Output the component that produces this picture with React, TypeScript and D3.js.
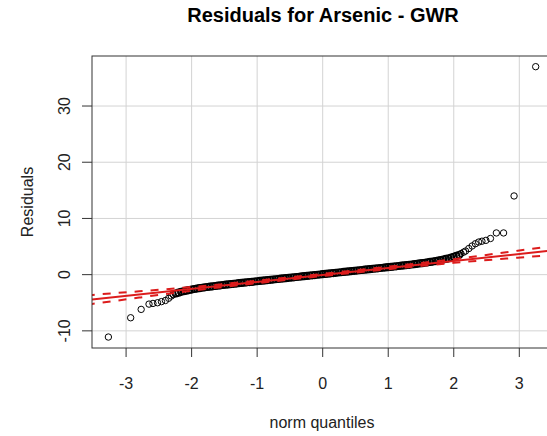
import React from "react";
import * as d3 from "d3";

// Q-Q plot of GWR residuals
const title = "Residuals for Arsenic - GWR";
const xTicks = [-3, -2, -1, 0, 1, 2, 3];
const yTicks = [-10, 0, 10, 20, 30];

// dense central band: theoretical quantile / residual
const bandQ = [
  -2.24, -2.2, -2.16, -2.12, -2.08, -2.04, -2.0, -1.96, -1.92, -1.88, -1.84, -1.8, -1.76, -1.72,
  -1.68, -1.64, -1.6, -1.56, -1.52, -1.48, -1.44, -1.4, -1.36, -1.32, -1.28, -1.24, -1.2, -1.16,
  -1.12, -1.08, -1.04, -1.0, -0.96, -0.92, -0.88, -0.84, -0.8, -0.76, -0.72, -0.68, -0.64, -0.6,
  -0.56, -0.52, -0.48, -0.44, -0.4, -0.36, -0.32, -0.28, -0.24, -0.2, -0.16, -0.12, -0.08, -0.04,
  0.0, 0.04, 0.08, 0.12, 0.16, 0.2, 0.24, 0.28, 0.32, 0.36, 0.4, 0.44, 0.48, 0.52, 0.56, 0.6,
  0.64, 0.68, 0.72, 0.76, 0.8, 0.84, 0.88, 0.92, 0.96, 1.0, 1.04, 1.08, 1.12, 1.16, 1.2, 1.24,
  1.28, 1.32, 1.36, 1.4, 1.44, 1.48, 1.52, 1.56, 1.6, 1.64, 1.68, 1.72, 1.76, 1.8, 1.84, 1.88,
  1.92, 1.96, 2.0, 2.04, 2.08,
];
const bandR = [
  -3.35, -3.2, -3.05, -2.95, -2.85, -2.75, -2.65, -2.55, -2.47, -2.4, -2.33, -2.26, -2.2, -2.14,
  -2.08, -2.02, -1.96, -1.9, -1.84, -1.79, -1.74, -1.68, -1.63, -1.58, -1.52, -1.47, -1.42, -1.37,
  -1.32, -1.27, -1.22, -1.17, -1.12, -1.07, -1.02, -0.97, -0.92, -0.87, -0.82, -0.77, -0.72, -0.67,
  -0.62, -0.57, -0.52, -0.47, -0.42, -0.37, -0.32, -0.27, -0.22, -0.17, -0.12, -0.07, -0.02, 0.03,
  0.08, 0.13, 0.18, 0.23, 0.28, 0.33, 0.38, 0.43, 0.48, 0.53, 0.58, 0.63, 0.68, 0.73, 0.78, 0.83,
  0.88, 0.93, 0.98, 1.03, 1.08, 1.13, 1.18, 1.23, 1.28, 1.33, 1.38, 1.43, 1.48, 1.54, 1.59, 1.64,
  1.7, 1.75, 1.81, 1.87, 1.93, 1.99, 2.05, 2.12, 2.19, 2.26, 2.33, 2.41, 2.49, 2.58, 2.68, 2.79,
  2.91, 3.04, 3.18, 3.33, 3.5,
];

// tails
const leftTail = [
  [-3.27, -11.1], [-2.93, -7.67], [-2.77, -6.18], [-2.65, -5.24], [-2.59, -5.12], [-2.52, -5.0],
  [-2.46, -4.8], [-2.4, -4.6], [-2.35, -4.2], [-2.31, -3.8], [-2.28, -3.55],
];
const rightTail = [
  [2.11, 3.75], [2.15, 4.0], [2.18, 4.2], [2.23, 4.65], [2.28, 5.1], [2.33, 5.5], [2.38, 5.8],
  [2.43, 5.95], [2.49, 6.1], [2.56, 6.43], [2.65, 7.42], [2.76, 7.42], [2.92, 14.0], [3.25, 37.0],
];

// reference line and its confidence envelope
const fitIntercept = -0.05;
const fitSlope = 1.24;
const envQ = [-3.6, -3.2, -2.8, -2.4, -2.0, -1.5, -1.0, -0.5, 0, 0.5, 1.0, 1.5, 2.0, 2.4, 2.8, 3.2, 3.6];
const envHalf = [0.82, 0.7, 0.56, 0.43, 0.33, 0.26, 0.22, 0.2, 0.19, 0.2, 0.22, 0.26, 0.33, 0.43, 0.56, 0.7, 0.82];

const W = 547;
const H = 436;
const plot = { left: 92, top: 56, right: 556, bottom: 348 };
const RED = "#dc1c1c";
const FONT = "Arial, 'Liberation Sans', sans-serif";

export default function App() {
  const x = d3.scaleLinear().domain([-3.52, 3.56]).range([plot.left, plot.right]);
  const y = d3.scaleLinear().domain([-13.05, 38.9]).range([plot.bottom, plot.top]);

  const band = bandQ.map((q, i) => [q, bandR[i]]);
  const tails = [...leftTail, ...rightTail];

  const fit = (q: number) => fitIntercept + fitSlope * q;
  const line = d3
    .line<number[]>()
    .x((d) => x(d[0]))
    .y((d) => y(d[1]))
    .curve(d3.curveMonotoneX);
  const upper = envQ.map((q, i) => [q, fit(q) + envHalf[i]]);
  const lower = envQ.map((q, i) => [q, fit(q) - envHalf[i]]);
  const [d0, d1] = x.domain();

  return (
    <div style={{ position: "absolute", left: 0, top: 0 }}>
      <svg width={W} height={H} style={{ display: "block", background: "#fff" }} fontFamily={FONT}>
        <defs>
          <clipPath id="plotClip">
            <rect x={plot.left} y={plot.top} width={plot.right - plot.left} height={plot.bottom - plot.top} />
          </clipPath>
        </defs>

        <text x={(plot.left + plot.right) / 2 - 1} y={22} textAnchor="middle" fontSize={20} fontWeight="bold" fill="#000">
          {title}
        </text>

        {/* grid */}
        <g stroke="#d3d3d3" strokeWidth={1}>
          {xTicks.map((t) => (
            <line key={"gx" + t} x1={x(t)} x2={x(t)} y1={plot.top} y2={plot.bottom} />
          ))}
          {yTicks.map((t) => (
            <line key={"gy" + t} x1={plot.left} x2={plot.right} y1={y(t)} y2={y(t)} />
          ))}
        </g>

        {/* points */}
        <g fill="none" stroke="#000">
          {band.map((p, i) => (
            <circle key={"b" + i} cx={x(p[0])} cy={y(p[1])} r={3.3} strokeWidth={1.6} />
          ))}
          {tails.map((p, i) => (
            <circle key={"t" + i} cx={x(p[0])} cy={y(p[1])} r={3.2} strokeWidth={1} />
          ))}
        </g>

        {/* reference line + envelope */}
        <g clipPath="url(#plotClip)" fill="none" stroke={RED} strokeWidth={2}>
          <line x1={x(d0)} y1={y(fit(d0))} x2={x(d1)} y2={y(fit(d1))} />
          <path d={line(upper) || ""} strokeDasharray="8,8" />
          <path d={line(lower) || ""} strokeDasharray="8,8" />
        </g>

        {/* box */}
        <rect
          x={plot.left}
          y={plot.top}
          width={plot.right - plot.left}
          height={plot.bottom - plot.top}
          fill="none"
          stroke="#333"
          strokeWidth={1}
        />

        {/* axes */}
        <g stroke="#333" strokeWidth={1}>
          {xTicks.map((t) => (
            <line key={"tx" + t} x1={x(t)} x2={x(t)} y1={plot.bottom} y2={plot.bottom + 9} />
          ))}
          {yTicks.map((t) => (
            <line key={"ty" + t} x1={plot.left - 10} x2={plot.left} y1={y(t)} y2={y(t)} />
          ))}
        </g>
        <g fontSize={16} fill="#222" textAnchor="middle">
          {xTicks.map((t) => (
            <text key={"lx" + t} x={x(t)} y={389}>
              {t}
            </text>
          ))}
          {yTicks.map((t) => (
            <text key={"ly" + t} transform={`translate(70,${y(t)}) rotate(-90)`}>
              {t}
            </text>
          ))}
          <text x={322} y={428}>norm quantiles</text>
          <text transform={`translate(33,${(plot.top + plot.bottom) / 2}) rotate(-90)`}>Residuals</text>
        </g>
      </svg>
    </div>
  );
}
